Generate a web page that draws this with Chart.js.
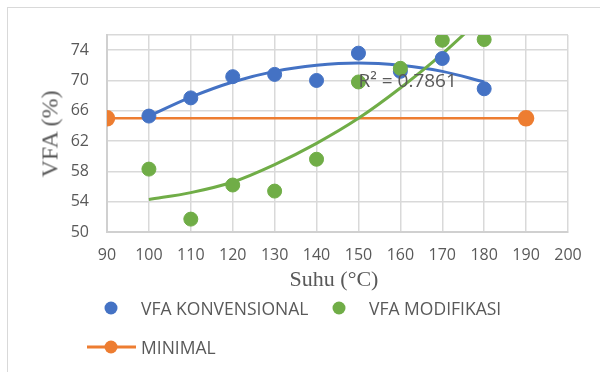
<!DOCTYPE html>
<html>
<head>
<meta charset="utf-8">
<script src="https://cdn.jsdelivr.net/npm/chart.js@4"></script>
<style>
  html, body { margin: 0; padding: 0; background: #fff; }
  #wrap { position: relative; width: 600px; height: 372px; overflow: hidden; font-family: "Open Sans", sans-serif; }
  #frame { position: absolute; left: 7px; top: 7px; width: 700px; height: 500px; border-left: 1px solid #d9d9d9; border-top: 1px solid #d9d9d9; }
  canvas { position: absolute; left: 0; top: 0; }
  .title { position: absolute; font-family: "Liberation Serif", "DejaVu Serif", serif; color: #595959; white-space: nowrap; }
  #ytitle { left: 50px; top: 134px; font-size: 24px; transform: translate(-50%, -50%) rotate(-90deg); }
  #xtitle { left: 334px; top: 279px; font-size: 22px; transform: translate(-50%, -50%); }
  .lg { position: absolute; font-size: 17.5px; color: #595959; white-space: nowrap; transform: translateY(-50%); }
  .dot { position: absolute; width: 13px; height: 13px; border-radius: 50%; transform: translate(-50%, -50%); }
  .ln { position: absolute; height: 3px; transform: translateY(-50%); }
</style>
</head>
<body>
<div id="wrap">
  <div id="frame"></div>
  <canvas id="chart" width="600" height="372"></canvas>
  <div class="title" id="ytitle">VFA (%)</div>
  <div class="title" id="xtitle">Suhu (°C)</div>

  <!-- legend -->
  <div class="dot" style="left:111px; top:308px; background:#4472c4"></div>
  <div class="lg" style="left:141px; top:308px">VFA KONVENSIONAL</div>
  <div class="dot" style="left:339px; top:308px; background:#70ad47"></div>
  <div class="lg" style="left:369px; top:308px">VFA MODIFIKASI</div>
  <div class="ln" style="left:87px; top:347px; width:49px; background:#ed7d31"></div>
  <div class="dot" style="left:111px; top:347px; background:#ed7d31"></div>
  <div class="lg" style="left:141px; top:347px">MINIMAL</div>
</div>
<script>
// temperatures (°C)
const suhu = [100, 110, 120, 130, 140, 150, 160, 170, 180]
// VFA values
const vfaKonvensional = [65.3, 67.7, 70.5, 70.8, 70.0, 73.6, 71.2, 72.9, 68.9]
const vfaModifikasi = [58.3, 51.7, 56.2, 55.4, 59.6, 69.8, 71.6, 75.3, 75.4]
// minimum line
const minimalX = [90, 190]
const minimalY = [65.0, 65.0]
// trendlines as drawn in the picture
const trendKonvensional = [65.3, 67.8, 69.8, 71.2, 72.0, 72.3, 72.0, 71.2, 69.8]
const trendModifikasi = [54.3, 55.2, 56.6, 58.9, 61.7, 65.0, 69.0, 73.5, 78.6]
const r2Label = 'R² = 0.7861'
const r2At = { x: 150, y: 69.9 }

const xTicks = [90, 100, 110, 120, 130, 140, 150, 160, 170, 180, 190, 200]
const yTicks = [50, 54, 58, 62, 66, 70, 74, 76]
const yLabels = [50, 54, 58, 62, 66, 70, 74]

const pts = (xs, ys) => xs.map((x, i) => ({ x, y: ys[i] }))

const r2Plugin = {
  id: 'r2',
  afterDatasetsDraw (chart) {
    const { ctx, scales } = chart
    ctx.save()
    ctx.font = '19px "Open Sans"'
    ctx.fillStyle = '#595959'
    ctx.textBaseline = 'middle'
    ctx.fillText(r2Label, scales.x.getPixelForValue(r2At.x), scales.y.getPixelForValue(r2At.y))
    ctx.restore()
  }
}

new Chart(document.getElementById('chart'), {
  type: 'scatter',
  data: {
    datasets: [
      { label: 'VFA MODIFIKASI', data: pts(suhu, vfaModifikasi), backgroundColor: '#70ad47', borderColor: '#70ad47', pointRadius: 7, order: 1 },
      { label: 'VFA KONVENSIONAL', data: pts(suhu, vfaKonvensional), backgroundColor: '#4472c4', borderColor: '#4472c4', pointRadius: 7, order: 2 },
      { label: 'trend mod', data: pts(suhu, trendModifikasi), showLine: true, borderColor: '#70ad47', borderWidth: 3, pointRadius: 0, cubicInterpolationMode: 'monotone', clip: 0, order: 3 },
      { label: 'trend konv', data: pts(suhu, trendKonvensional), showLine: true, borderColor: '#4472c4', borderWidth: 3, pointRadius: 0, cubicInterpolationMode: 'monotone', order: 4 },
      { label: 'MINIMAL', data: pts(minimalX, minimalY), showLine: true, borderColor: '#ed7d31', backgroundColor: '#ed7d31', borderWidth: 2.5, pointRadius: 7, order: 5 }
    ]
  },
  options: {
    responsive: false,
    animation: false,
    layout: { padding: { left: 0, top: 35, right: 32, bottom: 0 } },
    plugins: { legend: { display: false }, tooltip: { enabled: false } },
    scales: {
      x: {
        type: 'linear', min: 90, max: 200,
        afterBuildTicks: s => { s.ticks = xTicks.map(v => ({ value: v })) },
        afterFit: s => { s.height = 140 },
        grid: { color: '#d9d9d9', lineWidth: 1.5, drawTicks: false },
        border: { color: '#d0d0d0', width: 2 },
        ticks: { color: '#595959', font: { family: 'Open Sans', size: 16 }, padding: 14, maxRotation: 0, autoSkip: false }
      },
      y: {
        min: 50, max: 76,
        afterBuildTicks: s => { s.ticks = yTicks.map(v => ({ value: v })) },
        afterFit: s => { s.width = 107 },
        grid: { color: '#d9d9d9', lineWidth: 1.5, drawTicks: false },
        border: { color: '#d0d0d0', width: 2 },
        ticks: { color: '#595959', font: { family: 'Open Sans', size: 16 }, padding: 18, callback: v => yLabels.includes(v) ? v : '' }
      }
    }
  },
  plugins: [r2Plugin]
})
</script>
</body>
</html>
